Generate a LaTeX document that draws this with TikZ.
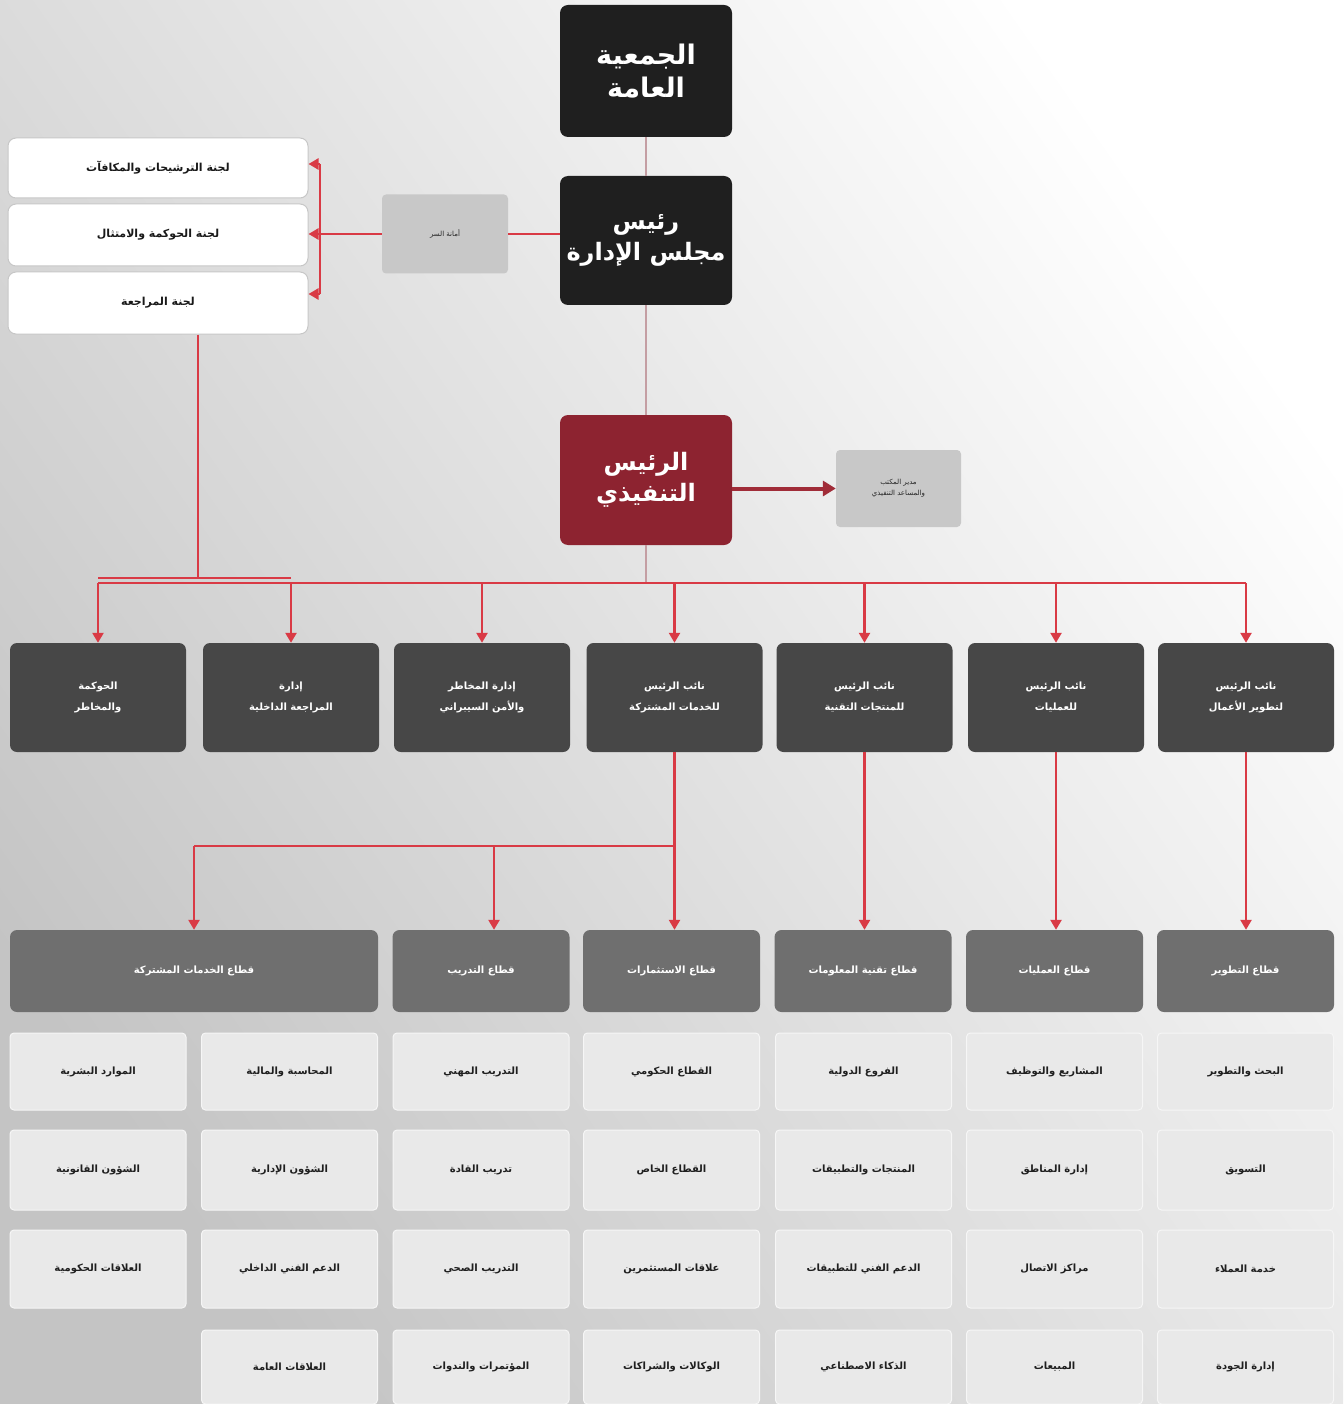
\documentclass[tikz,border=0pt]{standalone}
\usepackage{fontspec}
\usetikzlibrary{arrows.meta,calc}
\TeXXeTstate=1
\newfontfamily\arabicfont[Script=Arabic]{DejaVu Sans}
\newcommand\ar[1]{{\arabicfont\beginR #1\endR}}
\definecolor{topdark}{HTML}{1F1F1F}
\definecolor{ceored}{HTML}{8D2330}
\definecolor{rowdark}{HTML}{474747}
\definecolor{secgray}{HTML}{6F6F6F}
\definecolor{sidegray}{HTML}{C8C8C8}
\definecolor{gridgray}{HTML}{E9E9E9}
\definecolor{linered}{HTML}{D93A45}
\definecolor{linegray}{HTML}{C49EA3}
\definecolor{arrowdark}{HTML}{A02C38}
\tikzset{
  box/.style={rectangle, inner sep=2pt, align=center},
  topbox/.style={box, rounded corners=8pt, fill=topdark, text=white,
    minimum width=172pt, font=\arabicfont\bfseries\fontsize{27}{33}\selectfont},
  ceobox/.style={topbox, fill=ceored},
  sidebox/.style={box, rounded corners=4pt, fill=sidegray, text=black!85,
    font=\arabicfont\fontsize{7}{11}\selectfont},
  combox/.style={box, rounded corners=8pt, fill=white, draw=black!22, line width=1pt,
    minimum width=300pt, text=black!90, font=\arabicfont\bfseries\fontsize{11}{14}\selectfont},
  rowbox/.style={box, rounded corners=7pt, fill=rowdark, text=white,
    minimum width=176pt, minimum height=109pt, font=\arabicfont\bfseries\fontsize{10}{21}\selectfont},
  secbox/.style={box, rounded corners=7pt, fill=secgray, text=white!95,
    minimum width=177pt, minimum height=82pt, font=\arabicfont\bfseries\fontsize{10}{13}\selectfont},
  gridbox/.style={box, rounded corners=4pt, fill=gridgray, draw=white!60!gridgray, line width=1pt,
    minimum width=176pt, text=black!88, font=\arabicfont\bfseries\fontsize{10}{13}\selectfont},
  redline/.style={draw=linered, line width=2.4pt},
  redarrow/.style={redline, -{Triangle[width=11pt,length=10pt]}},
  grayline/.style={draw=linegray, line width=2pt},
}
\begin{document}
\begin{tikzpicture}[x=1pt,y=-1pt]
\useasboundingbox (0,0) rectangle (1343,1404);
\shade[bottom color=black!23, top color=white, shading angle=-55] (0,0) rectangle (1343,1404);

% top chain
\node[topbox, minimum height=132pt] (ga) at (646,71) {\ar{الجمعية}\\\ar{العامة}};
\node[topbox, minimum height=129pt, font=\arabicfont\bfseries\fontsize{24}{31}\selectfont] (chair) at (646,240.5) {\ar{رئيس}\\\ar{مجلس الإدارة}};
\node[ceobox, minimum height=130pt, font=\arabicfont\bfseries\fontsize{24}{31}\selectfont] (ceo) at (646,480) {\ar{الرئيس}\\\ar{التنفيذي}};
\node[sidebox, minimum width=126pt, minimum height=79pt] (sec) at (445,234) {\ar{أمانة السر}};
\node[sidebox, minimum width=125pt, minimum height=77pt] (asst) at (898.5,488.5) {\ar{مدير المكتب}\\\ar{والمساعد التنفيذي}};

% committees
\node[combox, minimum height=60pt] (cm1) at (158,168) {\ar{لجنة الترشيحات والمكافآت}};
\node[combox, minimum height=62pt] (cm2) at (158,235) {\ar{لجنة الحوكمة والامتثال}};
\node[combox, minimum height=62pt] (cm3) at (158,303) {\ar{لجنة المراجعة}};

% second row
\node[rowbox] (r1) at (98,697.5) {\ar{الحوكمة}\\\ar{والمخاطر}};
\node[rowbox] (r2) at (291,697.5) {\ar{إدارة}\\\ar{المراجعة الداخلية}};
\node[rowbox] (r3) at (482,697.5) {\ar{إدارة المخاطر}\\\ar{والأمن السيبراني}};
\node[rowbox] (r4) at (674.5,697.5) {\ar{نائب الرئيس}\\\ar{للخدمات المشتركة}};
\node[rowbox] (r5) at (864.5,697.5) {\ar{نائب الرئيس}\\\ar{للمنتجات التقنية}};
\node[rowbox] (r6) at (1056,697.5) {\ar{نائب الرئيس}\\\ar{للعمليات}};
\node[rowbox] (r7) at (1246,697.5) {\ar{نائب الرئيس}\\\ar{لتطوير الأعمال}};

% sectors
\node[secbox, minimum width=368pt] (s1) at (194,971) {\ar{قطاع الخدمات المشتركة}};
\node[secbox] (s2) at (481,971) {\ar{قطاع التدريب}};
\node[secbox] (s3) at (671.5,971) {\ar{قطاع الاستثمارات}};
\node[secbox] (s4) at (863,971) {\ar{قطاع تقنية المعلومات}};
\node[secbox] (s5) at (1054.5,971) {\ar{قطاع العمليات}};
\node[secbox] (s6) at (1245.5,971) {\ar{قطاع التطوير}};

% grid
\def\ya{1071.5}\def\yb{1170}\def\yc{1269}\def\yd{1367}
\node[gridbox, minimum height=77pt] (ga1) at (98,\ya) {\ar{الموارد البشرية}};
\node[gridbox, minimum height=80pt] (ga2) at (98,\yb) {\ar{الشؤون القانونية}};
\node[gridbox, minimum height=78pt] (ga3) at (98,\yc) {\ar{العلاقات الحكومية}};

\node[gridbox, minimum height=77pt] (gb1) at (289.5,\ya) {\ar{المحاسبة والمالية}};
\node[gridbox, minimum height=80pt] (gb2) at (289.5,\yb) {\ar{الشؤون الإدارية}};
\node[gridbox, minimum height=78pt] (gb3) at (289.5,\yc) {\ar{الدعم الفني الداخلي}};
\node[gridbox, minimum height=74pt] (gb4) at (289.5,\yd) {\ar{العلاقات العامة}};

\node[gridbox, minimum height=77pt] (gc1) at (481,\ya) {\ar{التدريب المهني}};
\node[gridbox, minimum height=80pt] (gc2) at (481,\yb) {\ar{تدريب القادة}};
\node[gridbox, minimum height=78pt] (gc3) at (481,\yc) {\ar{التدريب الصحي}};
\node[gridbox, minimum height=74pt] (gc4) at (481,\yd) {\ar{المؤتمرات والندوات}};

\node[gridbox, minimum height=77pt] (gd1) at (671.5,\ya) {\ar{القطاع الحكومي}};
\node[gridbox, minimum height=80pt] (gd2) at (671.5,\yb) {\ar{القطاع الخاص}};
\node[gridbox, minimum height=78pt] (gd3) at (671.5,\yc) {\ar{علاقات المستثمرين}};
\node[gridbox, minimum height=74pt] (gd4) at (671.5,\yd) {\ar{الوكالات والشراكات}};

\node[gridbox, minimum height=77pt] (ge1) at (863.5,\ya) {\ar{الفروع الدولية}};
\node[gridbox, minimum height=80pt] (ge2) at (863.5,\yb) {\ar{المنتجات والتطبيقات}};
\node[gridbox, minimum height=78pt] (ge3) at (863.5,\yc) {\ar{الدعم الفني للتطبيقات}};
\node[gridbox, minimum height=74pt] (ge4) at (863.5,\yd) {\ar{الذكاء الاصطناعي}};

\node[gridbox, minimum height=77pt] (gf1) at (1054.5,\ya) {\ar{المشاريع والتوظيف}};
\node[gridbox, minimum height=80pt] (gf2) at (1054.5,\yb) {\ar{إدارة المناطق}};
\node[gridbox, minimum height=78pt] (gf3) at (1054.5,\yc) {\ar{مراكز الاتصال}};
\node[gridbox, minimum height=74pt] (gf4) at (1054.5,\yd) {\ar{المبيعات}};

\node[gridbox, minimum height=77pt] (gg1) at (1245.5,\ya) {\ar{البحث والتطوير}};
\node[gridbox, minimum height=80pt] (gg2) at (1245.5,\yb) {\ar{التسويق}};
\node[gridbox, minimum height=78pt] (gg3) at (1245.5,\yc) {\ar{خدمة العملاء}};
\node[gridbox, minimum height=74pt] (gg4) at (1245.5,\yd) {\ar{إدارة الجودة}};

% helper coordinates
\coordinate (bus) at (0,583);
\coordinate (cbus) at (0,578);
\coordinate (j) at (0,846);
\coordinate (br) at (320,0);
\coordinate (cmtap) at ([xshift=40pt]cm3.south);
\coordinate (c1t) at ([yshift=4pt]cm1.east);
\coordinate (c3t) at ([yshift=9pt]cm3.east);
\coordinate (s2t) at ([xshift=13pt]s2.north);

% connectors
\draw[grayline] (ga.south) -- (chair.north);
\draw[grayline] (chair.south) -- (ceo.north);
\draw[grayline] (ceo.south) -- (ceo.south |- bus);

\draw[redline] (sec.east) -- (sec.east -| chair.west);
\draw[redarrow] (sec.west) -- (sec.west -| cm2.east);
\draw[redline] (br |- c1t) -- (br |- c3t);
\draw[redarrow] (br |- c1t) -- (c1t);
\draw[redarrow] (br |- c3t) -- (c3t);

\draw[draw=arrowdark, line width=4pt, -{Triangle[width=15pt,length=13pt]}] (asst.west -| ceo.east) -- (asst.west);

\draw[redline] (cmtap) -- (cmtap |- cbus);
\draw[redline] (r1.north |- cbus) -- (r2.north |- cbus);
\draw[redline] (r1.north |- bus) -- (r7.north |- bus);
\foreach \r in {r1,r2,r3,r4,r5,r6,r7}{
  \draw[redarrow] (\r.north |- bus) -- (\r.north);
}

\draw[redline] (r4.south) -- (r4.south |- j);
\draw[redline] (r4.south |- j) -- (s1.north |- j);
\draw[redarrow] (s1.north |- j) -- (s1.north);
\draw[redarrow] (s2t |- j) -- (s2t);
\draw[redarrow] (r4.south |- j) -- (r4.south |- s3.north);

\draw[redarrow] (r5.south) -- (r5.south |- s4.north);
\draw[redarrow] (r6.south) -- (r6.south |- s5.north);
\draw[redarrow] (r7.south) -- (r7.south |- s6.north);
\end{tikzpicture}
\end{document}
